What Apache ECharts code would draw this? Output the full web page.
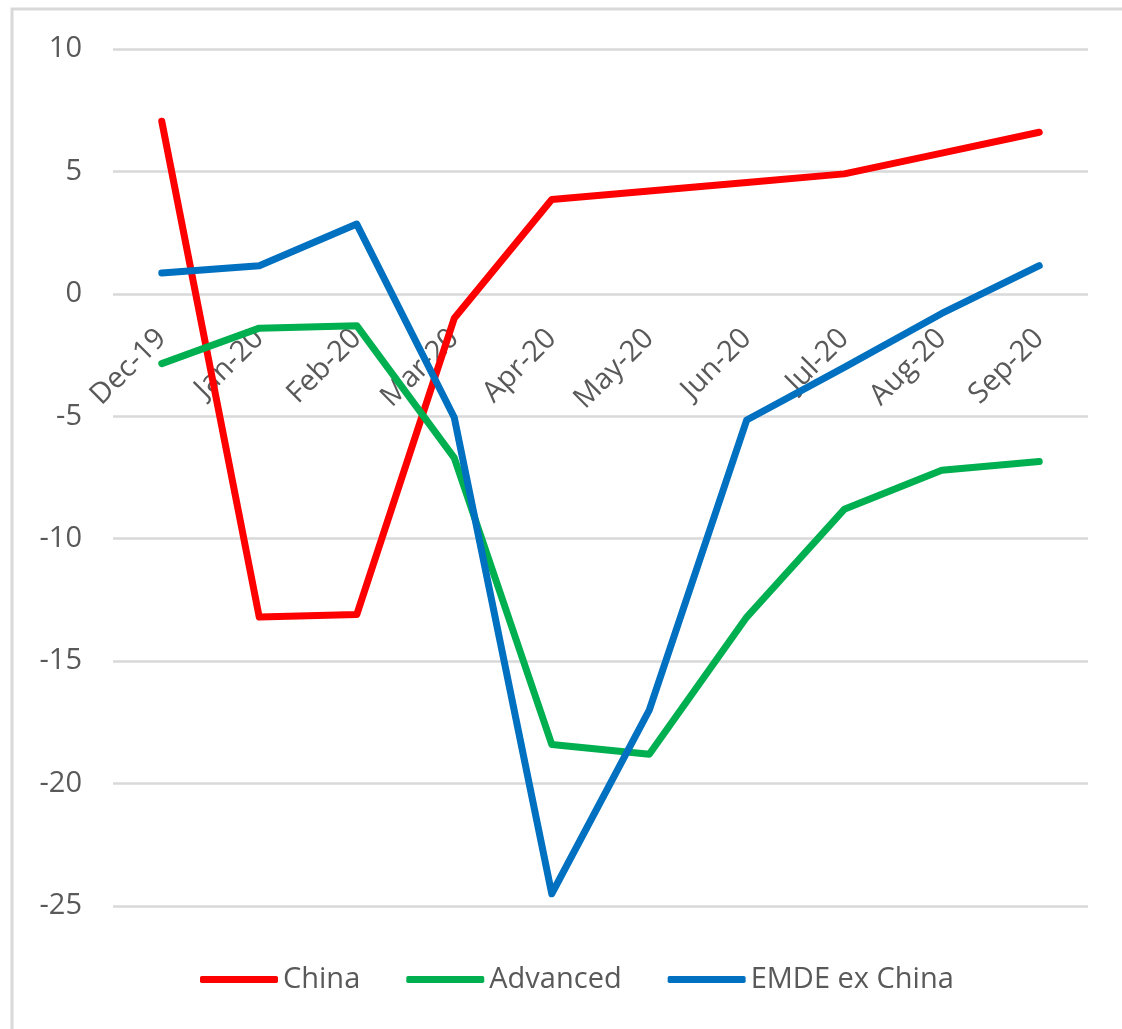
<!DOCTYPE html>
<html>
<head>
<meta charset="utf-8">
<script src="https://cdn.jsdelivr.net/npm/echarts@6/dist/echarts.min.js"></script>
<style>html,body{margin:0;padding:0;background:#fff}#c{width:1122px;height:1029px}</style>
</head>
<body>
<div id="c"></div>
<script>
const categories = ['Dec-19','Jan-20','Feb-20','Mar-20','Apr-20','May-20','Jun-20','Jul-20','Aug-20','Sep-20'];
const china    = [7.05, -13.2, -13.1, -1.0, 3.85, 4.2, 4.55, 4.9, 5.75, 6.6];
const advanced = [-2.85, -1.4, -1.3, -6.7, -18.4, -18.8, -13.2, -8.8, -7.2, -6.85];
const emde     = [0.85, 1.15, 2.85, -5.05, -24.5, -17.0, -5.15, -3.0, -0.8, 1.15];
const seriesNames = ['China','Advanced','EMDE ex China'];
const colors = ['#FF0000','#00B050','#0070C0'];
const yTicks = {min:-25, max:10, interval:5};

const font = 'Open Sans';
const chart = echarts.init(document.getElementById('c'), null, {renderer:'canvas'});
const mk = (name, data, color) => ({
  name, type:'line', data, symbol:'none', smooth:false,
  lineStyle:{color, width:7, cap:'round', join:'round'},
  itemStyle:{color},
  z: 3
});
chart.setOption({
  animation:false,
  backgroundColor:'#fff',
  color: colors,
  graphic:[{type:'rect', shape:{x:12, y:9, width:1200, height:1100}, style:{fill:'none', stroke:'#D9D9D9', lineWidth:3}, silent:true}],
  grid:{left:113, right:34, top:49, bottom:123, containLabel:false},
  xAxis:{
    type:'category', data:categories, boundaryGap:true,
    axisLine:{show:false, onZero:true}, axisTick:{show:false},
    axisLabel:{rotate:45, color:'#595959', fontFamily:font, fontSize:29, margin:40, interval:0},
    splitLine:{show:false}, z: 1
  },
  yAxis:{
    type:'value', min:yTicks.min, max:yTicks.max, interval:yTicks.interval,
    axisLine:{show:false}, axisTick:{show:false},
    axisLabel:{color:'#595959', fontFamily:font, fontSize:29, margin:31},
    splitLine:{lineStyle:{color:'#D9D9D9', width:2.5}}
  },
  legend:{
    data:seriesNames, bottom:30, left:195,
    icon:'roundRect', itemWidth:78, itemHeight:7, itemGap:46,
    textStyle:{color:'#595959', fontFamily:font, fontSize:29}
  },
  series:[mk(seriesNames[0], china, colors[0]), mk(seriesNames[1], advanced, colors[1]), mk(seriesNames[2], emde, colors[2])]
});
// place the category axis at value 0 using the library's own scale
const zeroY = chart.convertToPixel({yAxisIndex:0}, 0);
const bottomY = chart.convertToPixel({yAxisIndex:0}, yTicks.min);
chart.setOption({xAxis:{offset: -(bottomY - zeroY)}});
</script>
</body>
</html>
